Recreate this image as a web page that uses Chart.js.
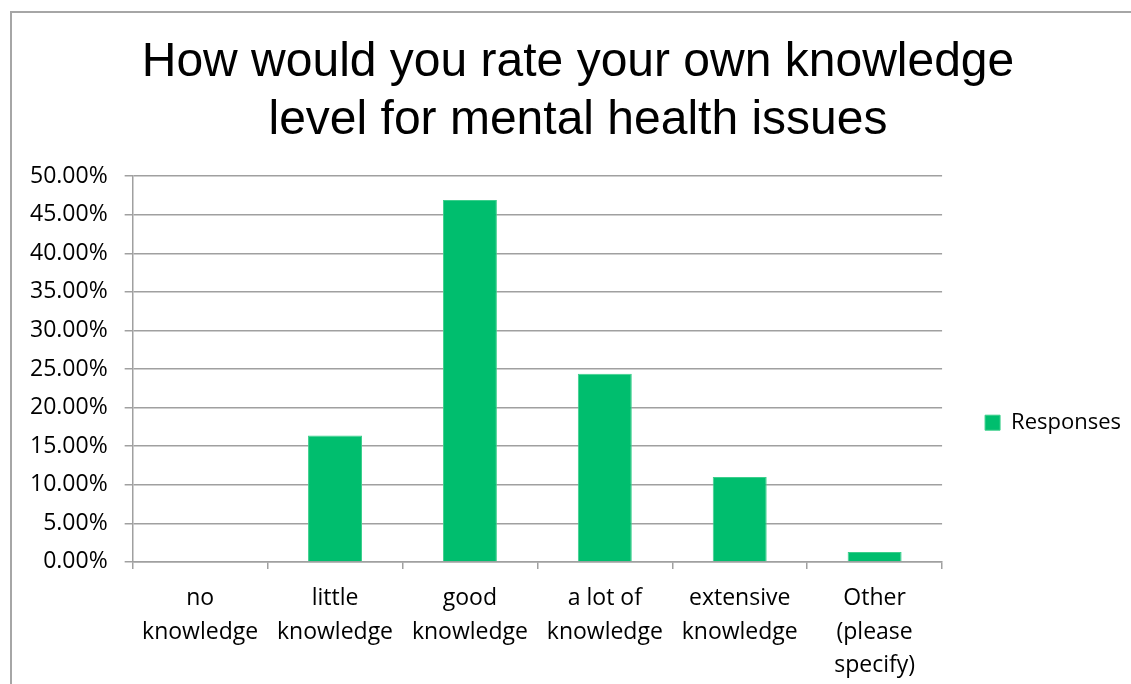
<!DOCTYPE html>
<html>
<head>
<meta charset="utf-8">
<script src="https://cdn.jsdelivr.net/npm/chart.js@4"></script>
<style>
  html, body { margin: 0; padding: 0; background: #fff; overflow: hidden; }
  #wrap { position: relative; width: 1131px; height: 684px; }
  #frame {
    position: absolute; left: 10px; top: 11px; right: -5px; bottom: -5px;
    border-left: 2px solid #a6a6a6; border-top: 2px solid #a6a6a6;
    pointer-events: none;
  }
</style>
</head>
<body>
<div id="wrap">
  <canvas id="myChart" width="1131" height="684"></canvas>
  <div id="frame"></div>
</div>
<script>
const categories = [
  ["no", "knowledge"],
  ["little", "knowledge"],
  ["good", "knowledge"],
  ["a lot of", "knowledge"],
  ["extensive", "knowledge"],
  ["Other", "(please", "specify)"],
];
const responses = [0, 16.4, 46.9, 24.4, 11.0, 1.3]; // percent

const titleLines = [
  "How would you rate your own knowledge",
  "level for mental health issues",
];

const gridColor = "#a0a0a0";
const textFont = { family: "'Open Sans', sans-serif", size: 23 };

const data = {
  labels: categories,
  datasets: [
    {
      label: "Responses",
      data: responses,
      backgroundColor: "#00be6e",
      borderColor: "#3ccf8c",
      borderWidth: 1,
      barPercentage: 0.4,
      categoryPercentage: 1,
    },
  ],
};

const config = {
  type: "bar",
  data: data,
  options: {
    responsive: false,
    animation: false,
    layout: {
      padding: { left: 25, right: 0, top: 0, bottom: -11 },
    },
    plugins: {
      title: {
        display: true,
        text: titleLines,
        color: "#000",
        font: { family: "'Liberation Sans', Arial, sans-serif", size: 48, weight: "normal", lineHeight: 1.2 },
        padding: { top: 34, bottom: 27 },
      },
      legend: {
        position: "right",
        maxWidth: 192,
        title: {
          display: true,
          text: " ",
          font: { size: 12 },
          padding: { top: 136, bottom: 0 },
        },
        labels: {
          color: "#000",
          font: { family: "'Open Sans', sans-serif", size: 22 },
          boxWidth: 15,
          boxHeight: 15,
          padding: 43,
        },
      },
      tooltip: { enabled: false },
    },
    scales: {
      x: {
        grid: {
          offset: true,
          drawOnChartArea: false,
          drawTicks: true,
          tickLength: 7,
          color: gridColor,
          lineWidth: 1.5,
        },
        border: { color: gridColor, width: 1.5 },
        ticks: {
          color: "#000",
          font: { ...textFont, lineHeight: 1.45 },
          padding: 13,
          maxRotation: 0,
          autoSkip: false,
        },
      },
      y: {
        min: 0,
        max: 50,
        // labels hang left past the padding so the title stays centred
        afterFit: (scale) => { scale.width -= 12; },
        grid: {
          color: gridColor,
          lineWidth: 1.5,
          tickLength: 8,
        },
        border: { color: gridColor, width: 1.5 },
        ticks: {
          stepSize: 5,
          color: "#000",
          font: textFont,
          padding: 17,
          callback: (v) => v.toFixed(2) + "%",
        },
      },
    },
  },
};

new Chart(document.getElementById("myChart"), config);
</script>
</body>
</html>
